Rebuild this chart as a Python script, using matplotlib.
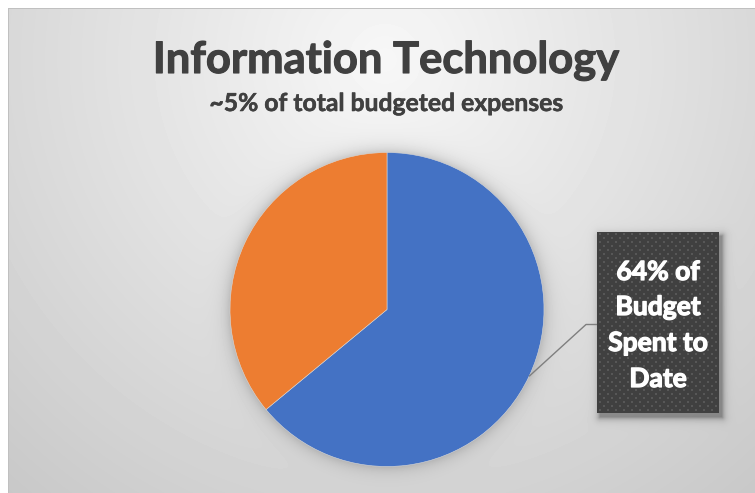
import numpy as np
import matplotlib
matplotlib.use("Agg")
import matplotlib.pyplot as plt
import matplotlib.patheffects as pe

# ---- data -------------------------------------------------------------
categories = ["Spent to Date", "Remaining"]
shares = [64, 36]
slice_colors = ["#4472C4", "#ED7D31"]
title_text = "Information Technology"
subtitle_text = "~5% of total budgeted expenses"
callout_lines = [f"{shares[0]}% of", "Budget", "Spent to", "Date"]

# ---- layout (pixels) --------------------------------------------------
W, H = 755, 493
CX, CY, R = 387.0, 309.5, 157.0          # pie centre / radius
BOX = (597.0, 232.0, 719.0, 413.0)        # callout box x0, y0, x1, y1
ELBOW_X = 586.0
FONT = "Lato"

fig = plt.figure(figsize=(W / 100, H / 100), dpi=100)

# ---- background: soft radial gradient with shadows --------------------
yy, xx = np.mgrid[0:H, 0:W] + 0.5
rad = np.hypot(xx - 385, (yy - 60) * 1.0)
val = np.clip(247 - 0.082 * rad, 0, 255) / 255.0

# halo around the pie
d_pie = np.hypot(xx - CX, yy - CY) - R
pie_sh = 0.16 * np.exp(-np.clip(d_pie, 0, None) / 7.0)
val = val * (1 - pie_sh)

# drop shadow of callout box
x0, y0, x1, y1 = BOX
sx0, sy0, sx1, sy1 = x0 + 3, y0 + 4, x1 + 3, y1 + 4
ddx = np.maximum(np.maximum(sx0 - xx, 0), xx - sx1)
ddy = np.maximum(np.maximum(sy0 - yy, 0), yy - sy1)
box_sh = 0.35 * np.exp(-np.hypot(ddx, ddy) / 3.0)
val = val * (1 - box_sh)

# page margin and chart border
val[:8, :] = 1.0
val[:, :8] = 1.0
val[8, 8:] = 0.75
val[8:, 8] = 0.75

ax_bg = fig.add_axes([0, 0, 1, 1], zorder=0)
ax_bg.imshow(val, cmap="gray", vmin=0, vmax=1, extent=(0, W, H, 0),
             interpolation="nearest", aspect="auto")
ax_bg.set_xlim(0, W)
ax_bg.set_ylim(H, 0)
ax_bg.axis("off")

# ---- pie --------------------------------------------------------------
ax_pie = fig.add_axes([(CX - R) / W, (H - CY - R) / H, 2 * R / W, 2 * R / H],
                      zorder=1)
ax_pie.patch.set_alpha(0)
ax_pie.pie(shares, colors=slice_colors, startangle=90, counterclock=False,
           radius=1.0, wedgeprops=dict(linewidth=0.4, edgecolor="#d9d9d9"))
ax_pie.set_xlim(-1, 1)
ax_pie.set_ylim(-1, 1)
ax_pie.axis("off")

# ---- overlay: leader line, callout, titles ----------------------------
ax = fig.add_axes([0, 0, 1, 1], zorder=2)
ax.patch.set_alpha(0)
ax.set_xlim(0, W)
ax.set_ylim(H, 0)
ax.axis("off")

mid_angle = np.deg2rad(90 - 360 * shares[0] / sum(shares) / 2)
ax_x = CX + R * np.cos(mid_angle)
ax_y = CY - R * np.sin(mid_angle)
box_mid_y = (y0 + y1) / 2 + 2
ax.plot([ax_x, ELBOW_X, x0], [ax_y, box_mid_y, box_mid_y],
        color="#7f7f7f", lw=1.0, solid_capstyle="butt")

# callout box with a fine dotted texture
bw, bh = int(x1 - x0), int(y1 - y0)
tex = np.full((bh, bw), 0.25)
for r_i in range(1, bh, 4):
    off = 2 if (r_i // 4) % 2 == 0 else 6
    for c in range(off, bw - 1, 8):
        tex[r_i:r_i + 2, c:c + 2] = 0.34
ax.imshow(tex, cmap="gray", vmin=0, vmax=1, extent=(x0, x1, y1, y0),
          interpolation="nearest", aspect="auto", zorder=3)

renderer = fig.canvas.get_renderer()


def fit_width(t, target):
    w = t.get_window_extent(renderer).width
    t.set_fontsize(t.get_fontsize() * target / w)


heavy_dark = [pe.withStroke(linewidth=0.8, foreground="#404040")]
t_title = ax.text(386, 73, title_text, ha="center", va="baseline",
                  fontsize=30, fontweight="bold", family=FONT, color="#404040",
                  path_effects=heavy_dark)
fit_width(t_title, 466)
t_sub = ax.text(386, 111, subtitle_text, ha="center", va="baseline",
                fontsize=12, fontweight="bold", family=FONT, color="#404040",
                path_effects=[pe.withStroke(linewidth=0.4, foreground="#404040")])
fit_width(t_sub, 352)

baselines = [280, 315, 351, 387]
bx = (x0 + x1) / 2
probe = ax.text(0, 0, "Spent to", fontsize=16, fontweight="bold", family=FONT)
fit_width(probe, 100)
size = probe.get_fontsize()
probe.remove()
heavy_white = [pe.withStroke(linewidth=0.9, foreground="white")]
for line, yb in zip(callout_lines, baselines):
    ax.text(bx, yb, line, ha="center", va="baseline", fontsize=size,
            fontweight="bold", family=FONT, color="white", zorder=4,
            path_effects=heavy_white)

fig.savefig("out.png", dpi=100)
